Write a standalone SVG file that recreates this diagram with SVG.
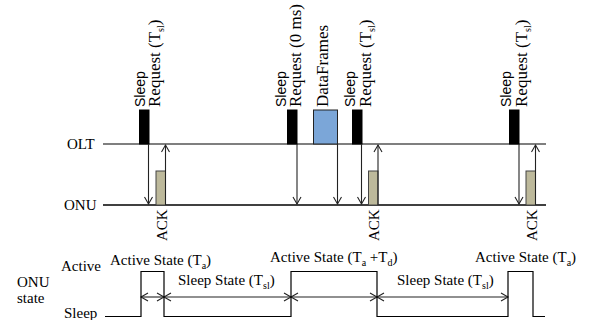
<svg xmlns="http://www.w3.org/2000/svg" width="590" height="320" viewBox="0 0 590 320">
<defs>
<style>
.t{font-family:"Liberation Serif","Times New Roman",serif;font-size:15px;fill:#000}
.r{font-family:"Liberation Serif","Times New Roman",serif;font-size:17px;fill:#000}
.s{font-family:"Liberation Sans",Arial,sans-serif;font-size:14px;fill:#000}
.sub{font-size:10px}
.ax{stroke:#555;stroke-width:1.3;fill:none}
.ax2{stroke:#000;stroke-width:1.3;fill:none}
.ar{stroke:#222;stroke-width:1.1;fill:none;marker-end:url(#ah)}
.da{stroke:#222;stroke-width:1.1;fill:none;marker-start:url(#ahs);marker-end:url(#ah)}
.bar{fill:#000;stroke:#000;stroke-width:1}
.ack{fill:#bdb99b;stroke:#444;stroke-width:1}
.wave{stroke:#000;stroke-width:1.2;fill:none}
</style>
<marker id="ah" markerUnits="userSpaceOnUse" markerWidth="12" markerHeight="12" refX="8" refY="6" orient="auto" overflow="visible">
<path d="M1,2 L8,6 L1,10" fill="none" stroke="#222" stroke-width="1.1"/>
</marker>
<marker id="ahs" markerUnits="userSpaceOnUse" markerWidth="12" markerHeight="12" refX="4" refY="6" orient="auto" overflow="visible">
<path d="M11,2 L4,6 L11,10" fill="none" stroke="#222" stroke-width="1.1"/>
</marker>
</defs>

<g id="axes">
<line class="ax" x1="103" y1="144" x2="546" y2="144"/>
<line class="ax2" x1="103" y1="205" x2="546" y2="205"/>
<text class="t" x="67" y="149">OLT</text>
<text class="t" x="64" y="210">ONU</text>
</g>

<g id="sr1">
<rect class="bar" x="139.5" y="110" width="9.5" height="34"/>
<text class="s" transform="translate(145,107) rotate(-90)">Sleep</text>
<text class="r" transform="translate(160,107) rotate(-90)">Request (T<tspan class="sub" dy="4">sl</tspan><tspan dy="-4">)</tspan></text>
</g>
<g id="sr2">
<rect class="bar" x="287.5" y="110" width="9.5" height="34"/>
<text class="s" transform="translate(285.5,107) rotate(-90)">Sleep</text>
<text class="r" transform="translate(301,107) rotate(-90)">Request (0 ms)</text>
</g>
<g id="data">
<rect x="313.5" y="110" width="24" height="34" fill="#7ba6d8" stroke="#222" stroke-width="1"/>
<text class="r" transform="translate(328,107) rotate(-90)">DataFrames</text>
</g>
<g id="sr3">
<rect class="bar" x="352.5" y="110" width="9.5" height="34"/>
<text class="s" transform="translate(355,107) rotate(-90)">Sleep</text>
<text class="r" transform="translate(371,107) rotate(-90)">Request (T<tspan class="sub" dy="4">sl</tspan><tspan dy="-4">)</tspan></text>
</g>
<g id="sr4">
<rect class="bar" x="509.5" y="110" width="9.5" height="34"/>
<text class="s" transform="translate(511,107) rotate(-90)">Sleep</text>
<text class="r" transform="translate(526.5,107) rotate(-90)">Request (T<tspan class="sub" dy="4">sl</tspan><tspan dy="-4">)</tspan></text>
</g>

<g id="ack1">
<rect class="ack" x="156" y="171" width="9.5" height="34"/>
<text class="t" transform="translate(166.5,241) rotate(-90)">ACK</text>
</g>
<g id="ack2">
<rect class="ack" x="368.5" y="171" width="9.5" height="34"/>
<text class="t" transform="translate(379,241) rotate(-90)">ACK</text>
</g>
<g id="ack3">
<rect class="ack" x="526" y="171" width="9.5" height="34"/>
<text class="t" transform="translate(536.5,241) rotate(-90)">ACK</text>
</g>

<g id="connectors">
<line class="ar" x1="148.5" y1="144" x2="148.5" y2="204"/>
<line class="ar" x1="165.5" y1="205" x2="165.5" y2="145"/>
<line class="ar" x1="297" y1="144" x2="297" y2="204"/>
<line class="ar" x1="337.5" y1="144" x2="337.5" y2="204"/>
<line class="ar" x1="361.5" y1="144" x2="361.5" y2="204"/>
<line class="ar" x1="378" y1="205" x2="378" y2="145"/>
<line class="ar" x1="519" y1="144" x2="519" y2="204"/>
<line class="ar" x1="535.5" y1="205" x2="535.5" y2="145"/>
<line class="da" x1="141" y1="297" x2="164" y2="297"/>
<line class="da" x1="164" y1="297" x2="291" y2="297"/>
<line class="da" x1="291" y1="297" x2="377" y2="297"/>
<line class="da" x1="377" y1="297" x2="508" y2="297"/>
</g>

<g id="state">
<path class="wave" d="M105,316.5 H141 V271.5 H164 V316.5 H291 V271.5 H377 V316.5 H508 V271.5 H533 V316.5 H545"/>
<text class="t" x="61" y="271">Active</text>
<text class="t" x="17" y="287">ONU</text>
<text class="t" x="17" y="303">state</text>
<text class="t" x="64" y="318">Sleep</text>
<text class="t" x="110" y="265">Active State (T<tspan class="sub" dy="4">a</tspan><tspan dy="-4">)</tspan></text>
<text class="t" x="178" y="285">Sleep State (T<tspan class="sub" dy="4">sl</tspan><tspan dy="-4">)</tspan></text>
<text class="t" x="270" y="262">Active State (T<tspan class="sub" dy="4">a</tspan><tspan dy="-4"> +T</tspan><tspan class="sub" dy="4">d</tspan><tspan dy="-4">)</tspan></text>
<text class="t" x="397" y="285">Sleep State (T<tspan class="sub" dy="4">sl</tspan><tspan dy="-4">)</tspan></text>
<text class="t" x="475" y="262">Active State (T<tspan class="sub" dy="4">a</tspan><tspan dy="-4">)</tspan></text>
</g>
</svg>
